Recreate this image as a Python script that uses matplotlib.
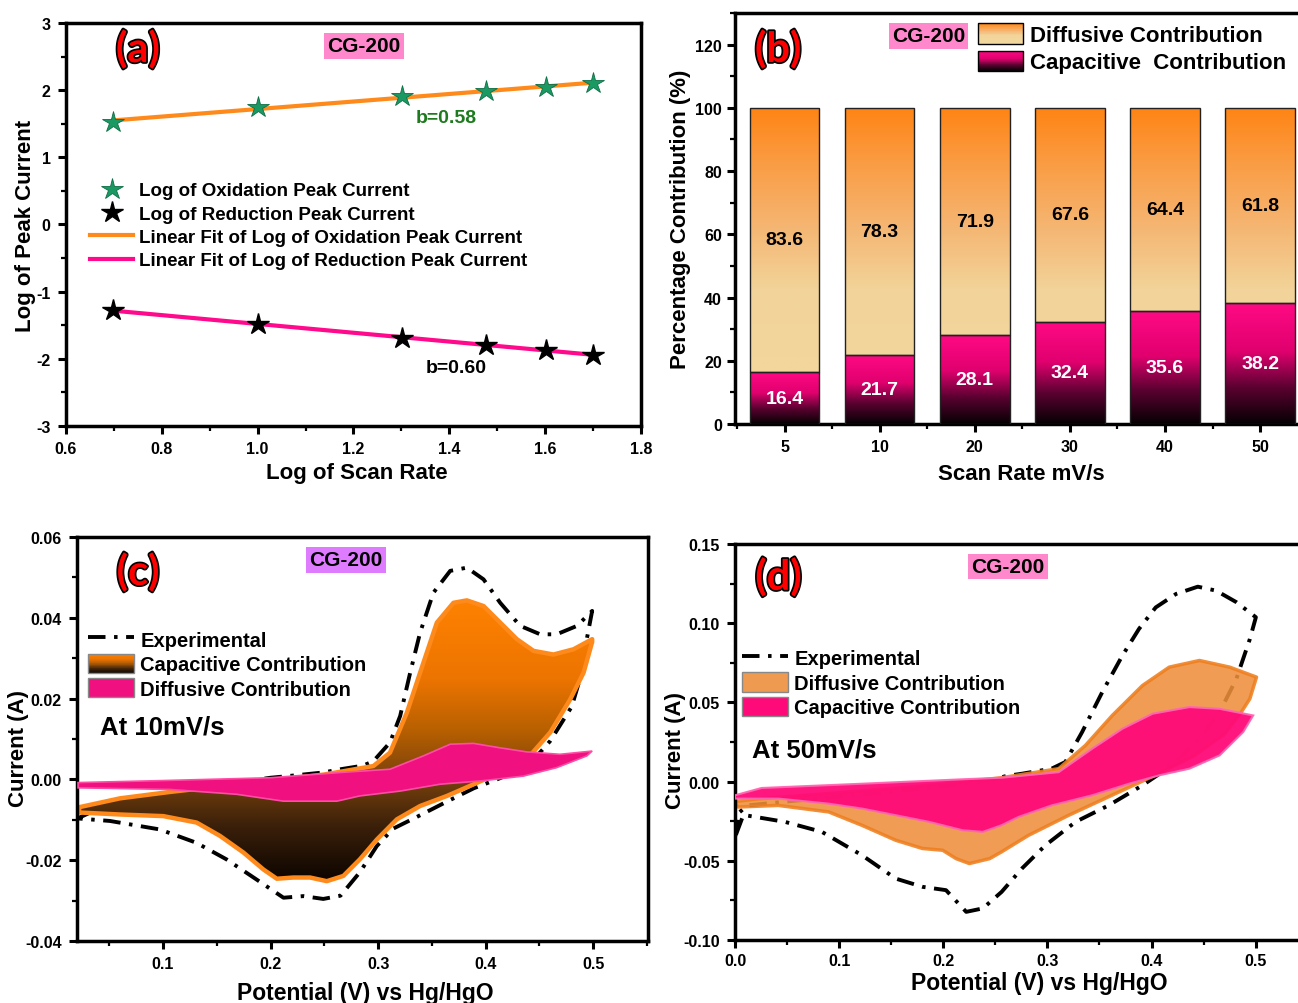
import numpy as np
import matplotlib
matplotlib.use("Agg")
import matplotlib.pyplot as plt
from matplotlib.colors import LinearSegmentedColormap
from matplotlib.patches import Polygon, Rectangle, Patch
from matplotlib.lines import Line2D
from matplotlib.legend_handler import HandlerBase
from matplotlib.ticker import MultipleLocator, FormatStrFormatter
import matplotlib.patheffects as pe

plt.rcParams['font.family'] = ['Liberation Sans', 'DejaVu Sans']
plt.rcParams['font.weight'] = 'bold'
plt.rcParams['axes.labelweight'] = 'bold'
plt.rcParams['axes.linewidth'] = 2.5
plt.rcParams['axes.unicode_minus'] = False

# ---- (a) log peak current vs log scan rate
log_scan = [0.699, 1.0, 1.301, 1.477, 1.602, 1.699]
log_ox = [1.52, 1.75, 1.91, 1.99, 2.04, 2.10]
log_red = [-1.28, -1.48, -1.69, -1.79, -1.87, -1.94]

# ---- (b) contributions
scan_rates = ['5', '10', '20', '30', '40', '50']
diffusive_pct = [83.6, 78.3, 71.9, 67.6, 64.4, 61.8]
capacitive_pct = [16.4, 21.7, 28.1, 32.4, 35.6, 38.2]

# ---- (c) CV at 10 mV/s
exp10_up_x = [0.022, 0.05, 0.10, 0.15, 0.20, 0.212, 0.249, 0.265, 0.286, 0.2956, 0.311, 0.3205, 0.3298,
              0.339, 0.3514, 0.367, 0.3825, 0.398, 0.4135, 0.432, 0.4507, 0.466, 0.485, 0.499]
exp10_up_y = [-0.0095, -0.0060, -0.0035, -0.0015, 0.0004, 0.0007, 0.0017, 0.0025, 0.0034, 0.0045, 0.0091,
              0.0157, 0.0264, 0.0363, 0.0462, 0.0516, 0.0524, 0.0495, 0.0437, 0.0380, 0.0359, 0.0359, 0.0380, 0.0417]
exp10_dn_x = [0.499, 0.494, 0.490, 0.480, 0.460, 0.440, 0.4135, 0.389, 0.364, 0.336, 0.314, 0.2988, 0.283,
              0.265, 0.249, 0.2305, 0.212, 0.187, 0.159, 0.131, 0.097, 0.0507, 0.022]
exp10_dn_y = [0.0417, 0.0347, 0.027, 0.018, 0.0095, 0.0035, 0.0003, -0.0022, -0.0055, -0.0093, -0.0122,
              -0.0165, -0.0230, -0.0288, -0.0296, -0.0289, -0.0293, -0.0248, -0.0198, -0.0157, -0.0124, -0.0103, -0.0097]
cap10_up_x = [0.022, 0.06, 0.107, 0.15, 0.20, 0.25, 0.2956, 0.311, 0.3267, 0.339, 0.3546, 0.37, 0.3825,
              0.398, 0.4135, 0.429, 0.4445, 0.463, 0.4817, 0.499]
cap10_up_y = [-0.0069, -0.0047, -0.0031, -0.0018, -0.0003, 0.0012, 0.0033, 0.0066, 0.0165, 0.0264, 0.0388,
              0.0437, 0.0443, 0.0429, 0.0388, 0.0347, 0.0318, 0.0309, 0.0322, 0.0347]
cap10_dn_x = [0.499, 0.491, 0.4786, 0.46, 0.4383, 0.4135, 0.389, 0.364, 0.339, 0.3174, 0.2988, 0.283, 0.2677,
              0.2523, 0.2367, 0.2212, 0.2058, 0.1933, 0.1747, 0.153, 0.1313, 0.1003, 0.06, 0.022]
cap10_dn_y = [0.0340, 0.0264, 0.0198, 0.0116, 0.0050, 0.0017, -0.0012, -0.0041, -0.0066, -0.0099, -0.0149,
              -0.0198, -0.0239, -0.0252, -0.0243, -0.0243, -0.0246, -0.0223, -0.0181, -0.0140, -0.0107, -0.0091,
              -0.0087, -0.0082]
dif10_up_x = [0.021, 0.10, 0.20, 0.265, 0.311, 0.342, 0.367, 0.3887, 0.4135, 0.438, 0.469, 0.499]
dif10_up_y = [-0.0008, -0.0003, 0.0004, 0.0017, 0.0025, 0.0058, 0.0087, 0.0089, 0.0078, 0.0068, 0.0062, 0.0070]
dif10_dn_x = [0.499, 0.494, 0.466, 0.435, 0.395, 0.3577, 0.3205, 0.283, 0.2616, 0.212, 0.1685, 0.1065, 0.021]
dif10_dn_y = [0.0070, 0.0058, 0.0029, 0.0008, -0.0004, -0.0012, -0.0029, -0.0041, -0.0054, -0.0054, -0.0037,
              -0.0025, -0.0021]

# ---- (d) CV at 50 mV/s
exp50_up_x = [0.0, 0.003, 0.012, 0.05, 0.10, 0.15, 0.20, 0.246, 0.2605, 0.2754, 0.304, 0.3172, 0.3333, 0.3527,
              0.372, 0.388, 0.404, 0.4235, 0.4444, 0.462, 0.4815, 0.5002]
exp50_up_y = [-0.035, -0.020, -0.015, -0.0125, -0.0095, -0.0065, -0.0030, 0.0010, 0.0036, 0.0050, 0.0082,
              0.0124, 0.0313, 0.0566, 0.0796, 0.0965, 0.1100, 0.1185, 0.1231, 0.1206, 0.1133, 0.1038]
exp50_dn_x = [0.5002, 0.4944, 0.488, 0.4815, 0.467, 0.45, 0.43, 0.41, 0.3913, 0.359, 0.327, 0.298, 0.2754,
              0.256, 0.238, 0.222, 0.2026, 0.18, 0.1543, 0.122, 0.0834, 0.048, 0.008, 0.0]
exp50_dn_y = [0.1038, 0.090, 0.0776, 0.065, 0.046, 0.030, 0.017, 0.006, -0.0023, -0.0149, -0.0254, -0.0402,
              -0.0549, -0.0696, -0.0800, -0.0822, -0.0685, -0.0664, -0.0612, -0.0465, -0.0317, -0.0254, -0.021, -0.035]
dif50_up_x = [0.0, 0.02, 0.05, 0.10, 0.15, 0.20, 0.256, 0.3108, 0.3365, 0.3623, 0.3913, 0.417, 0.446, 0.475, 0.5008]
dif50_up_y = [-0.0125, -0.0110, -0.0095, -0.0070, -0.0045, -0.0015, 0.0025, 0.0082, 0.0229, 0.0418, 0.0607,
              0.0723, 0.0765, 0.0723, 0.0660]
dif50_dn_x = [0.5008, 0.4944, 0.4863, 0.47, 0.44, 0.40, 0.3688, 0.3205, 0.2818, 0.256, 0.2445, 0.225, 0.2123,
              0.1994, 0.18, 0.1543, 0.122, 0.0899, 0.0415, 0.0029, 0.0]
dif50_dn_y = [0.0660, 0.0523, 0.0440, 0.030, 0.016, 0.003, -0.0065, -0.0212, -0.0339, -0.0443, -0.0486, -0.0517,
              -0.0486, -0.0433, -0.0422, -0.0370, -0.0276, -0.0191, -0.0150, -0.0160, -0.0140]
cap50_up_x = [0.0, 0.0254, 0.122, 0.2187, 0.256, 0.3108, 0.343, 0.372, 0.401, 0.4364, 0.4654, 0.4976]
cap50_up_y = [-0.0086, -0.0040, -0.0013, 0.0015, 0.0025, 0.0060, 0.0208, 0.0334, 0.0429, 0.0471, 0.0460, 0.0418]
cap50_dn_x = [0.4976, 0.488, 0.4654, 0.4364, 0.4074, 0.3784, 0.343, 0.304, 0.2721, 0.256, 0.238, 0.2187, 0.1865,
              0.1543, 0.122, 0.0899, 0.0415, 0.0]
cap50_dn_y = [0.0418, 0.0313, 0.0166, 0.0082, 0.0040, -0.0013, -0.0086, -0.0150, -0.0223, -0.0275, -0.0317,
              -0.0307, -0.0254, -0.0212, -0.0170, -0.0139, -0.0107, -0.0107]

ORANGE = '#FF8A1C'
PINK = '#FF0A8C'
GREEN = '#1A9A62'
TAG_PINK = '#FF88CC'
TAG_VIOLET = '#DF7BFF'
DASHDOT = (0, (4.5, 2.2, 0.9, 2.2))

diff_cmap = LinearSegmentedColormap.from_list('diff', [(0, '#F2D89E'), (0.42, '#F2D49A'), (0.62, '#F5B673'),
                                                       (0.82, '#FA9D45'), (1.0, '#FF8414')])
cap_cmap = LinearSegmentedColormap.from_list('cap', [(0, '#050003'), (0.3, '#5A0030'), (0.6, '#E0006E'),
                                                     (1.0, '#FF0A84')])
cv_cmap = LinearSegmentedColormap.from_list('cv', [(0, '#0D0500'), (0.19, '#3B200A'), (0.36, '#7A420C'),
                                                   (0.53, '#B86000'), (0.71, '#EC7400'), (1.0, '#FF8200')])


class GradientHandler(HandlerBase):
    def __init__(self, cmap, edge='black'):
        super().__init__()
        self.cmap = cmap
        self.edge = edge

    def create_artists(self, legend, orig_handle, xdescent, ydescent, width, height, fontsize, trans):
        n = 30
        arts = []
        for i in range(n):
            arts.append(Rectangle((-xdescent, -ydescent + height * i / n), width, height / n * 1.05,
                                  facecolor=self.cmap((i + 0.5) / n), edgecolor='none', transform=trans))
        arts.append(Rectangle((-xdescent, -ydescent), width, height, facecolor='none',
                              edgecolor=self.edge, lw=1.0, transform=trans))
        return arts


def style_axes(ax, xmaj, xmin, ymaj, ymin):
    ax.xaxis.set_major_locator(MultipleLocator(xmaj))
    ax.xaxis.set_minor_locator(MultipleLocator(xmin))
    ax.yaxis.set_major_locator(MultipleLocator(ymaj))
    ax.yaxis.set_minor_locator(MultipleLocator(ymin))
    ax.tick_params(which='major', direction='out', length=6, width=2.2, labelsize=11.5, pad=5)
    ax.tick_params(which='minor', direction='out', length=3.5, width=1.6)


def tag(ax, x, y, letter):
    ax.text(x, y, letter, transform=ax.transAxes, ha='center', va='center', fontsize=30,
            family=['Lato', 'DejaVu Sans'], weight='bold', color='#FF0000', zorder=10,
            path_effects=[pe.withStroke(linewidth=2.5, foreground='black')])


def cg_label(ax, x, y, fc):
    ax.text(x, y, 'CG-200', transform=ax.transAxes, ha='center', va='center', fontsize=15, zorder=10,
            bbox=dict(boxstyle='square,pad=0.15', fc=fc, ec='none'))


def gradient_fill(ax, xs, ys, cmap, y0, y1, z):
    poly = Polygon(np.column_stack([xs, ys]), closed=True, facecolor='none', edgecolor='none')
    ax.add_patch(poly)
    grad = np.linspace(0, 1, 256).reshape(-1, 1)
    im = ax.imshow(grad, cmap=cmap, origin='lower', aspect='auto', interpolation='bilinear',
                   extent=(min(xs), max(xs), y0, y1), zorder=z)
    im.set_clip_path(poly)


fig = plt.figure(figsize=(12.98, 10.04), dpi=100)

# ================= (a)
ax = fig.add_axes([0.0508, 0.5747, 0.443, 0.4014])
fit_x = np.array([log_scan[0], log_scan[-1]])
p_ox = np.polyfit(log_scan, log_ox, 1)
p_red = np.polyfit(log_scan, log_red, 1)
ax.plot(log_scan, log_ox, ls='none', marker='*', ms=16, color=GREEN, mec='#0d6e45', mew=0.6, zorder=4,
        label='Log of Oxidation Peak Current')
ax.plot(log_scan, log_red, ls='none', marker='*', ms=16, color='black', zorder=4,
        label='Log of Reduction Peak Current')
ax.plot(fit_x, np.polyval(p_ox, fit_x), color=ORANGE, lw=3, zorder=3,
        label='Linear Fit of Log of Oxidation Peak Current')
ax.plot(fit_x, np.polyval(p_red, fit_x), color=PINK, lw=3, zorder=3,
        label='Linear Fit of Log of Reduction Peak Current')
ax.set_xlim(0.6, 1.8)
ax.set_ylim(-3, 3)
style_axes(ax, 0.2, 0.1, 1, 0.5)
ax.set_xlabel('Log of Scan Rate', fontsize=16)
ax.set_ylabel('Log of Peak Current', fontsize=16)
ax.xaxis.set_label_coords(0.506, -0.09)
ax.yaxis.set_label_coords(-0.052, 0.5)
ax.legend(loc='upper left', bbox_to_anchor=(0.042, 0.605), frameon=False, fontsize=13.5, borderaxespad=0,
          handlelength=2.3, handletextpad=0.3, labelspacing=0.33, borderpad=0)
tag(ax, 0.125, 0.935, '(a)')
cg_label(ax, 0.518, 0.943, TAG_PINK)
ax.text(0.661, 0.766, 'b=0.58', transform=ax.transAxes, ha='center', va='center', fontsize=14, color='#1E7A1E')
ax.text(0.678, 0.146, 'b=0.60', transform=ax.transAxes, ha='center', va='center', fontsize=14, color='black')

# ================= (b)
ax = fig.add_axes([0.5663, 0.5767, 0.4368, 0.4094])
pos = np.arange(len(scan_rates))
width = 0.73
cap_bars = ax.bar(pos, capacitive_pct, width, facecolor='none', edgecolor='#222222', lw=1, zorder=3)
dif_bars = ax.bar(pos, diffusive_pct, width, bottom=capacitive_pct, facecolor='none', edgecolor='#222222',
                  lw=1, zorder=3)
grad = np.linspace(0, 1, 256).reshape(-1, 1)
for i in range(len(pos)):
    x0 = pos[i] - width / 2
    im = ax.imshow(grad, cmap=cap_cmap, origin='lower', aspect='auto', interpolation='bilinear',
                   extent=(x0, x0 + width, 0, capacitive_pct[i]), zorder=2)
    im.set_clip_path(cap_bars[i])
    im = ax.imshow(grad, cmap=diff_cmap, origin='lower', aspect='auto', interpolation='bilinear',
                   extent=(x0, x0 + width, 0, 100), zorder=2)
    im.set_clip_path(dif_bars[i])
    ax.text(pos[i], capacitive_pct[i] / 2, f'{capacitive_pct[i]:.1f}', ha='center', va='center',
            fontsize=14, color='white', zorder=5)
    ax.text(pos[i], capacitive_pct[i] + diffusive_pct[i] / 2, f'{diffusive_pct[i]:.1f}', ha='center',
            va='center', fontsize=14, color='black', zorder=5)
ax.set_xlim(-0.52, 5.44)
ax.set_ylim(0, 130)
ax.set_xticks(pos)
ax.set_xticklabels(scan_rates)
ax.xaxis.set_minor_locator(MultipleLocator(0.5))
ax.yaxis.set_major_locator(MultipleLocator(20))
ax.yaxis.set_minor_locator(MultipleLocator(10))
ax.tick_params(which='major', direction='out', length=6, width=2.2, labelsize=11.5, pad=5)
ax.tick_params(which='minor', direction='out', length=3.5, width=1.6)
ax.tick_params(axis='y', which='major', pad=3.5)
ax.set_xlabel('Scan Rate mV/s', fontsize=16)
ax.set_ylabel('Percentage Contribution (%)', fontsize=16)
ax.xaxis.set_label_coords(0.505, -0.095)
ax.yaxis.set_label_coords(-0.078, 0.5)
h_dif = Patch(label='Diffusive Contribution')
h_cap = Patch(label='Capacitive  Contribution')
ax.legend(handles=[h_dif, h_cap], handler_map={h_dif: GradientHandler(diff_cmap), h_cap: GradientHandler(cap_cmap)},
          loc='upper left', bbox_to_anchor=(0.428, 0.975), frameon=False, fontsize=16, borderaxespad=0,
          borderpad=0, handlelength=2.05, handleheight=1.05, handletextpad=0.3, labelspacing=0.2)
tag(ax, 0.076, 0.912, '(b)')
cg_label(ax, 0.341, 0.944, TAG_PINK)

# ================= (c)
ax = fig.add_axes([0.0593, 0.0618, 0.44, 0.4024])
ax.plot(exp10_up_x + exp10_dn_x, exp10_up_y + exp10_dn_y, color='black', lw=2.8, ls=DASHDOT, zorder=1)
cx = cap10_up_x + cap10_dn_x
cy = cap10_up_y + cap10_dn_y
gradient_fill(ax, cx, cy, cv_cmap, -0.025, 0.045, 2)
ax.add_patch(Polygon(np.column_stack([cx, cy]), closed=True, facecolor='none', edgecolor=ORANGE,
                     lw=3.2, joinstyle='round', zorder=2.5))
ax.add_patch(Polygon(np.column_stack([dif10_up_x + dif10_dn_x, dif10_up_y + dif10_dn_y]), closed=True,
                     facecolor='#F0107F', edgecolor='#FF4DA6', lw=1.2, zorder=3))
ax.set_xlim(0.02, 0.551)
ax.set_ylim(-0.04, 0.06)
style_axes(ax, 0.1, 0.05, 0.02, 0.01)
ax.yaxis.set_major_formatter(FormatStrFormatter('%.2f'))
ax.set_xlabel('Potential (V) vs Hg/HgO', fontsize=16.5)
ax.set_ylabel('Current (A)', fontsize=16)
ax.xaxis.set_label_coords(0.504, -0.098)
ax.yaxis.set_label_coords(-0.084, 0.48)
h_exp = Line2D([], [], color='black', lw=2.8, ls=DASHDOT, label='Experimental')
h_c = Patch(label='Capacitive Contribution')
h_d = Patch(facecolor='#F0107F', edgecolor='#888888', label='Diffusive Contribution')
ax.legend(handles=[h_exp, h_c, h_d], handler_map={h_c: GradientHandler(cv_cmap, edge='#888888')},
          loc='upper left', bbox_to_anchor=(0.019, 0.772), frameon=False, fontsize=14.5, borderaxespad=0,
          borderpad=0, handlelength=2.3, handleheight=1.1, handletextpad=0.3, labelspacing=0.2)
ax.text(0.040, 0.53, 'At 10mV/s', transform=ax.transAxes, ha='left', va='center', fontsize=18.5)
tag(ax, 0.107, 0.913, '(c)')
cg_label(ax, 0.471, 0.943, TAG_VIOLET)

# ================= (d)
ax = fig.add_axes([0.5663, 0.0627, 0.442, 0.3944])
ax.plot(exp50_up_x + exp50_dn_x, exp50_up_y + exp50_dn_y, color='black', lw=2.8, ls=DASHDOT, zorder=1)
ax.add_patch(Polygon(np.column_stack([dif50_up_x + dif50_dn_x, dif50_up_y + dif50_dn_y]), closed=True,
                     facecolor='#EE8F3C', alpha=0.88, edgecolor='#EE7E1E', lw=2.5, joinstyle='round', zorder=2))
ax.add_patch(Polygon(np.column_stack([cap50_up_x + cap50_dn_x, cap50_up_y + cap50_dn_y]), closed=True,
                     facecolor='#FF0A78', alpha=0.95, edgecolor='#FF66B2', lw=1.5, zorder=3))
ax.set_xlim(0.0, 0.551)
ax.set_ylim(-0.10, 0.15)
style_axes(ax, 0.1, 0.05, 0.05, 0.025)
ax.tick_params(axis='x', which='major', pad=3)
ax.yaxis.set_major_formatter(FormatStrFormatter('%.2f'))
ax.xaxis.set_major_formatter(FormatStrFormatter('%.1f'))
ax.set_xlabel('Potential (V) vs Hg/HgO', fontsize=16.5)
ax.set_ylabel('Current (A)', fontsize=16)
ax.xaxis.set_label_coords(0.531, -0.078)
ax.yaxis.set_label_coords(-0.086, 0.482)
h_exp = Line2D([], [], color='black', lw=2.8, ls=DASHDOT, label='Experimental')
h_d = Patch(facecolor='#EE9A50', edgecolor='#888888', label='Diffusive Contribution')
h_c = Patch(facecolor='#FF0A78', edgecolor='#888888', label='Capacitive Contribution')
ax.legend(handles=[h_exp, h_d, h_c], loc='upper left', bbox_to_anchor=(0.012, 0.738), frameon=False,
          fontsize=14.5, borderaxespad=0, borderpad=0, handlelength=2.3, handleheight=1.1,
          handletextpad=0.3, labelspacing=0.2)
ax.text(0.030, 0.482, 'At 50mV/s', transform=ax.transAxes, ha='left', va='center', fontsize=18.5)
tag(ax, 0.0756, 0.917, '(d)')
cg_label(ax, 0.476, 0.944, TAG_PINK)

fig.savefig('out.png', dpi=100, facecolor='white')
